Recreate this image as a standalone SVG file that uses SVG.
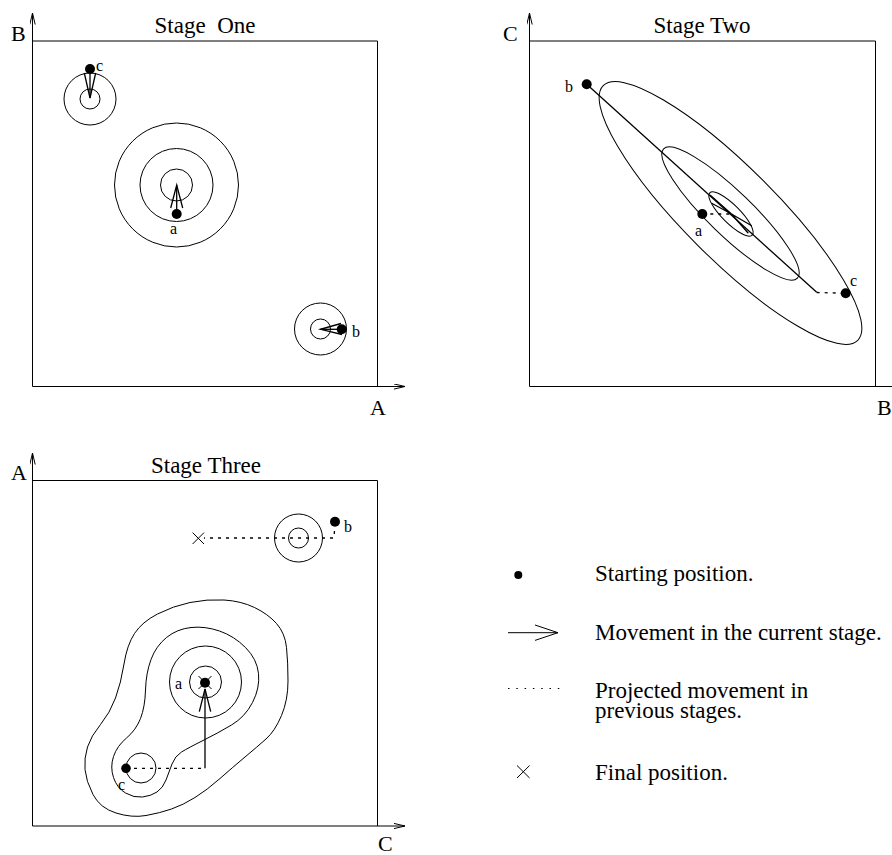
<svg xmlns="http://www.w3.org/2000/svg" width="892" height="855" viewBox="0 0 892 855">
<style>
text{font-family:"Liberation Serif","Times New Roman",serif;fill:#000}
.title{font-size:23px;text-anchor:middle}
.ax{font-size:22px}
.lbl{font-size:16px}
.leg{font-size:23px}
.ln{fill:none;stroke:#000;stroke-width:1}
.mv{fill:none;stroke:#000;stroke-width:1.3}
.dot{fill:#000}
.dash{fill:none;stroke:#000;stroke-width:1.3;stroke-dasharray:3 5}
</style>
<defs>
<marker id="ah" viewBox="0 0 12 6" refX="11.5" refY="3" markerWidth="12" markerHeight="6" markerUnits="userSpaceOnUse" orient="auto">
<path d="M0,0.3 L11.5,3 L0,5.7" fill="none" stroke="#000" stroke-width="1"/>
</marker>
</defs>
<rect width="892" height="855" fill="#fff"/>

<!-- Stage One -->
<g id="stage1">
<g id="s1-axes">
<line class="ln" x1="32.5" y1="386.5" x2="32.5" y2="13" marker-end="url(#ah)"/>
<line class="ln" x1="32.5" y1="386.5" x2="405" y2="386.5" marker-end="url(#ah)"/>
<polyline class="ln" points="32.5,41 377.5,41 377.5,386.5"/>
<text class="ax" x="11" y="41">B</text>
<text class="ax" x="370" y="415">A</text>
<text class="title" x="205" y="33" xml:space="preserve">Stage  One</text>
</g>
<g id="s1-c">
<circle class="ln" cx="90" cy="99" r="26"/>
<circle class="ln" cx="90" cy="99" r="10"/>
<circle class="dot" cx="90" cy="69" r="5"/>
<line class="mv" x1="90" y1="69" x2="90" y2="98"/>
<polyline class="mv" points="84.3,73 90,98 95.7,73"/>
<text class="lbl" x="96" y="71">c</text>
</g>
<g id="s1-a">
<circle class="ln" cx="176.5" cy="185" r="62"/>
<circle class="ln" cx="176.5" cy="185" r="36.5"/>
<circle class="ln" cx="176.5" cy="185" r="16"/>
<circle class="dot" cx="176.7" cy="214" r="5"/>
<line class="mv" x1="176.7" y1="214" x2="176.7" y2="185"/>
<polyline class="mv" points="170.7,208 176.7,185 182.7,208"/>
<text class="lbl" x="170" y="234">a</text>
</g>
<g id="s1-b">
<circle class="ln" cx="320.5" cy="329" r="26"/>
<circle class="ln" cx="320.5" cy="329" r="10"/>
<circle class="dot" cx="341.7" cy="329.3" r="5"/>
<line class="mv" x1="341.7" y1="329.3" x2="320.5" y2="329.3"/>
<polyline class="mv" points="341,323.5 320.5,329.3 342,334.5"/>
<text class="lbl" x="352" y="337">b</text>
</g>
</g>

<!-- Stage Two -->
<g id="stage2">
<g id="s2-axes">
<line class="ln" x1="529.5" y1="386.5" x2="529.5" y2="13" marker-end="url(#ah)"/>
<line class="ln" x1="529.5" y1="386.5" x2="903" y2="386.5" marker-end="url(#ah)"/>
<polyline class="ln" points="529.5,41 875.5,41 875.5,386.5"/>
<text class="ax" x="503" y="41">C</text>
<text class="ax" x="877" y="415">B</text>
<text class="title" x="702" y="33">Stage Two</text>
</g>
<g id="s2-ellipses">
<ellipse class="ln" cx="730.5" cy="213" rx="180" ry="46" transform="rotate(45 730.5 213)"/>
<ellipse class="ln" cx="730.5" cy="213.5" rx="93" ry="22" transform="rotate(44 730.5 213.5)"/>
<ellipse class="ln" cx="731" cy="214" rx="30" ry="9" transform="rotate(45 731 214)"/>
</g>
<g id="s2-b">
<circle class="dot" cx="586.7" cy="84.3" r="5"/>
<line class="mv" x1="586.7" y1="84.3" x2="816.7" y2="292.3"/>
<polyline class="mv" points="710,195 731.5,214 711.7,203.3"/>
<text class="lbl" x="565" y="92">b</text>
</g>
<g id="s2-c">
<line class="dash" x1="816.7" y1="292.5" x2="845.7" y2="293.3"/>
<circle class="dot" cx="845.7" cy="293.3" r="5"/>
<polyline class="mv" points="751.7,225.7 731.5,214 748.3,233.3"/>
<text class="lbl" x="850" y="286">c</text>
</g>
<g id="s2-a">
<line class="dash" x1="702.3" y1="214" x2="731" y2="214"/>
<circle class="dot" cx="702.3" cy="214" r="5"/>
<text class="lbl" x="695" y="236">a</text>
</g>
</g>

<!-- Stage Three -->
<g id="stage3">
<g id="s3-axes">
<line class="ln" x1="32.5" y1="826" x2="32.5" y2="453" marker-end="url(#ah)"/>
<line class="ln" x1="32.5" y1="826" x2="405" y2="826" marker-end="url(#ah)"/>
<polyline class="ln" points="32.5,480.5 377.5,480.5 377.5,826"/>
<text class="ax" x="11" y="480">A</text>
<text class="ax" x="378" y="851">C</text>
<text class="title" x="206" y="473">Stage Three</text>
</g>
<g id="s3-b">
<circle class="ln" cx="298.5" cy="538" r="24"/>
<circle class="ln" cx="298.5" cy="538" r="10"/>
<polyline class="dash" points="335,523 334,538 204,538"/>
<circle class="dot" cx="335" cy="521.7" r="5"/>
<path class="ln" d="M192.6,532.6 L204,544 M204,532.6 L192.6,544" stroke-width="1.3"/>
<text class="lbl" x="344" y="532">b</text>
</g>
<g id="s3-contours">
<path class="ln" d="M190,602.5 Q207,599 224,600 Q241,601 254.5,607.5 Q268,614 276.5,623.5 Q285,633 286.5,647.5 Q288,662 288,681 Q288,700 281.5,715.5 Q275,731 266,739 Q257,747 245,757 Q233,767 220,778.5 Q207,790 195,797.5 Q183,805 171.5,809 Q160,813 146,815.5 Q132,818 116,813 Q100,808 93,794.5 Q86,781 85,769.5 Q84,758 87.5,747 Q91,736 100.5,724.5 Q110,713 115.5,698 Q121,683 124,664 Q127,645 134.5,633.5 Q142,622 157.5,614 Q173,606 190,602.5 Z"/>
<path class="ln" d="M191,627.5 Q205,626 219.5,631 Q234,636 245.5,647.5 Q257,659 258.5,673.5 Q260,688 252.5,702.5 Q245,717 231.5,725 Q218,733 203,740.5 Q188,748 181.5,752 Q175,756 172,764 Q169,772 166,780 Q163,788 157,792 Q151,796 142.5,797 Q134,798 125.5,793 Q117,788 113.5,777.5 Q110,767 113.5,756.5 Q117,746 126.5,738 Q136,730 140.5,718.5 Q145,707 145.5,690 Q146,673 151,659.5 Q156,646 166.5,637.5 Q177,629 191,627.5 Z"/>
<circle class="ln" cx="205.5" cy="682" r="36"/>
<circle class="ln" cx="205.5" cy="682" r="16"/>
</g>
<g id="s3-a">
<circle class="dot" cx="205" cy="682.7" r="5"/>
<path class="ln" d="M198.5,676 L211.5,689 M211.5,676 L198.5,689" stroke-width="1.3"/>
<text class="lbl" x="175" y="689">a</text>
</g>
<g id="s3-c">
<circle class="ln" cx="141" cy="768" r="15"/>
<line class="dash" x1="126" y1="768.3" x2="205" y2="768.3"/>
<line class="mv" x1="205" y1="768.3" x2="205" y2="689"/>
<polyline class="mv" points="199.3,711.7 205,689 210.7,711.7"/>
<circle class="dot" cx="126" cy="768.3" r="4.8"/>
<text class="lbl" x="118" y="790">c</text>
</g>
</g>

<!-- Legend -->
<g id="legend">
<g id="leg-start">
<circle class="dot" cx="518.3" cy="575" r="4"/>
<text class="leg" x="595" y="580.7">Starting position.</text>
</g>
<g id="leg-move">
<line class="ln" x1="508" y1="632.7" x2="558" y2="632.7"/>
<polyline class="ln" points="535,625 558,632.7 535,640.4"/>
<text class="leg" x="595" y="639.5">Movement in the current stage.</text>
</g>
<g id="leg-proj">
<line class="ln" x1="508" y1="688.5" x2="562" y2="688.5" style="stroke-dasharray:1.5 6.8"/>
<text class="leg" x="595" y="697.5">Projected movement in</text>
<text class="leg" x="595" y="717.5">previous stages.</text>
</g>
<g id="leg-final">
<path class="ln" d="M517,765.5 L529.6,778 M529.6,765.5 L517,778"/>
<text class="leg" x="595" y="780">Final position.</text>
</g>
</g>
</svg>
